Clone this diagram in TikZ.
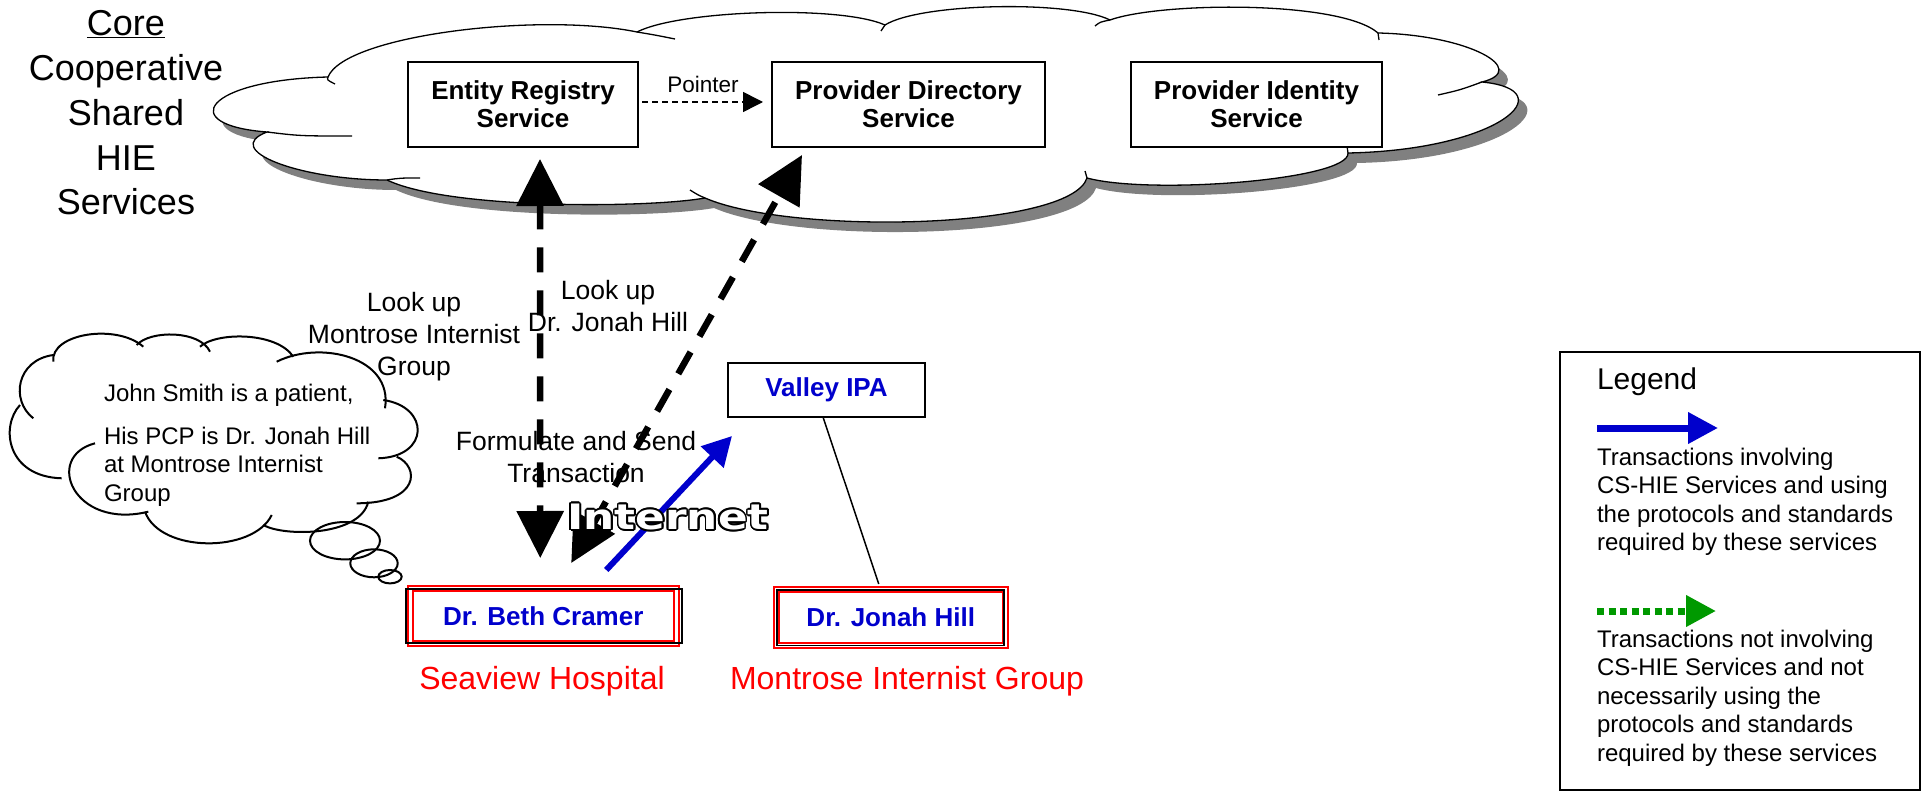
\documentclass[tikz,border=0pt]{standalone}
\usepackage{fontspec}
\setmainfont{Liberation Sans}
\newfontfamily\inetfont{DejaVu Sans}
\usetikzlibrary{arrows.meta,calc}
\definecolor{dblue}{RGB}{0,0,204}
\definecolor{dgreen}{RGB}{0,153,0}
\definecolor{shadowgray}{RGB}{128,128,128}
\tikzset{
  bigcloud/.pic={
    \path[pic actions] (328,77) .. controls (345,35) and (540,12) .. (637,32)
      .. controls (680,10) and (840,5) .. (885,25)
      .. controls (920,3) and (1070,0) .. (1110,20)
      .. controls (1160,2) and (1340,0) .. (1378,33)
      .. controls (1470,35) and (1530,70) .. (1482,82)
      .. controls (1565,90) and (1500,150) .. (1348,153)
      .. controls (1350,180) and (1150,195) .. (1087,178)
      .. controls (1070,230) and (790,235) .. (705,198)
      .. controls (650,208) and (450,210) .. (387,180)
      .. controls (300,180) and (220,150) .. (267,132)
      .. controls (175,125) and (205,80) .. (328,77) -- cycle;
  }
}
\begin{document}
\begin{tikzpicture}[x=1pt,y=-1pt,
  every node/.style={inner sep=0pt, outer sep=0pt},
  svc/.style={draw, line width=1.5pt, fill=white, minimum height=85pt, align=center,
    font=\fontsize{26}{28}\selectfont\bfseries},
  docbox/.style={draw=red, line width=2pt, double=white, double distance=3pt,
    minimum height=55.5pt, text=dblue, font=\fontsize{26}{28}\selectfont\bfseries},
  lbl/.style={align=center, font=\fontsize{26.5}{32}\selectfont},
  orgname/.style={text=red, font=\fontsize{32}{36}\selectfont},
  legtext/.style={anchor=west, align=left, font=\fontsize{24}{28.5}\selectfont},
  bigdash/.style={line width=6.5pt, dash pattern=on 25pt off 18pt},
  cloudline/.style={line width=1.3pt},
  thoughtline/.style={line width=2pt},
  inetstyle/.style={font=\inetfont\fontsize{35}{40}\selectfont\bfseries}
]
\useasboundingbox (0,0) rectangle (1922,794);

% ---------- big cloud ----------
\pic[fill=shadowgray, draw=none] at (9,10) {bigcloud};
\pic[fill=white, draw=black, cloudline] at (0,0) {bigcloud};
\begin{scope}[cloudline]
  \draw (267,132) .. controls (300,136) .. (352,136);
  \draw (387,180) .. controls (400,178) .. (420,178);
  \draw (328,77) .. controls (327,80) .. (335,84);
  \draw (637,32) .. controls (655,35) .. (675,39);
  \draw (885,25) -- (881,31);
  \draw (1110,20) .. controls (1100,22) .. (1095,26);
  \draw (1378,33) -- (1379,40);
  \draw (1482,82) .. controls (1460,90) .. (1438,95);
  \draw (1348,153) -- (1347,146);
  \draw (1087,178) -- (1085,171);
  \draw (705,198) .. controls (698,195) .. (690,190);
\end{scope}

% ---------- title ----------
\node[align=center, font=\fontsize{36}{44.75}\selectfont] (core) at (126,113)
  {\underline{Core}\\Cooperative\\Shared\\HIE\\Services};

% ---------- services ----------
\node[svc, minimum width=230pt] (entity) at (523,104.5) {Entity Registry\\Service};
\node[svc, minimum width=273pt] (directory) at (908.5,104.5) {Provider Directory\\Service};
\node[svc, minimum width=251pt] (identity) at (1256.5,104.5) {Provider Identity\\Service};

\node[font=\fontsize{22.5}{26}\selectfont] (ptr) at (703,84) {Pointer};
\draw[line width=1.5pt, dash pattern=on 6pt off 4pt, -{Triangle[length=20pt,width=20pt]}]
  ($(entity.east)+(4,-2.5)$) -- ($(directory.west)+(-9,-2.5)$);

% ---------- thought cloud ----------
\begin{scope}[thoughtline]
  \draw (33.3,418.3) .. controls (10,400) and (16.7,360) .. (53.3,355);
  \draw (53.3,361.7) .. controls (50,333.3) and (116.7,323.3) .. (143.3,346.7);
  \draw (136.7,345) .. controls (150,330) and (200,330) .. (210,351.7);
  \draw (200,346.7) .. controls (216.7,331.7) and (276.7,331.7) .. (293.3,356.7);
  \draw (276.7,361.7) .. controls (320,340) and (393.3,356.7) .. (385,408.3);
  \draw (383.3,400) .. controls (430,406.7) and (430,456.7) .. (378.3,458.3);
  \draw (396.7,456.7) .. controls (420,466.7) and (420,503.3) .. (356.7,503.3);
  \draw (368.3,501.7) .. controls (360,536.7) and (283.3,536.7) .. (263.3,525);
  \draw (271.7,515) .. controls (253.3,553.3) and (160,553.3) .. (145,511.7);
  \draw (148.3,511.7) .. controls (73.3,530) and (43.3,456.7) .. (95,443.3);
  \draw (61.7,478.3) .. controls (6.7,476.7) and (0,426.7) .. (20,405);
  \draw (345,540.7) ellipse [x radius=35, y radius=18.7];
  \draw (374,563.3) ellipse [x radius=23.7, y radius=14];
  \draw (390,576.7) ellipse [x radius=11.7, y radius=6.7];
\end{scope}
\node[anchor=west, align=left, font=\fontsize{24}{28.5}\selectfont] (thought) at (104,445)
  {John Smith is a patient,\\[14.5pt]His PCP is Dr. Jonah Hill\\at Montrose Internist\\Group};

% ---------- providers ----------
\node[draw, line width=1.5pt, fill=white, minimum width=197pt, minimum height=54pt,
  text=dblue, font=\fontsize{26}{28}\selectfont\bfseries] (valley) at (826.5,390) {Valley IPA};
\node[docbox, minimum width=266.5pt] (beth) at (543.25,615.75) {Dr. Beth Cramer};
\node[docbox, minimum width=228.5pt, minimum height=56pt] (jonah) at (890.75,617.5) {Dr. Jonah Hill};
\draw[line width=1.2pt] ($(beth.north west)+(-4,1)$) rectangle ($(beth.south east)+(5.5,-0.5)$);
\draw[line width=1.2pt] ($(jonah.north west)+(0.5,0.5)$) rectangle ($(jonah.south east)+(-1,0)$);
\draw[line width=1.5pt] ($(valley.south)+(-3.5,0)$) -- ($(jonah.north)+(-12,-5.5)$);

\node[orgname] (seaview) at (542,681) {Seaview Hospital};
\node[orgname] (montrose) at (907,681) {Montrose Internist Group};

% ---------- labels ----------
\node[lbl] (lookmig) at (414,337) {Look up\\Montrose Internist\\Group};
\node[lbl] (lookjh) at (608,306) {Look up\\Dr. Jonah Hill};
\node[lbl] (formulate) at (576,457) {Formulate and Send\\Transaction};

% ---------- transactions ----------
\draw[bigdash, {Triangle[length=47pt,width=46pt]}-{Triangle[length=47pt,width=46pt]}]
  ($(entity.south)+(17,12)$) -- ($(beth.north)+(-3,-30)$);
\draw[bigdash, {Triangle[length=47pt,width=46pt]}-{Triangle[length=47pt,width=46pt]}]
  ($(beth.north)+(28,-25)$) -- ($(directory.south west)+(30,8)$);
\draw[line width=6pt, dblue, -{Triangle[length=29pt,width=30pt]}]
  ($(beth.north)+(63,-18)$) -- ($(valley.south west)+(4,19)$);

% ---------- Internet (outlined) ----------
\foreach \a in {0,20,...,340}
  \node[inetstyle, text=black] (inetc\a) at ($(668,517)+(\a:1.7)$) {\scalebox{1.25}[1]{Internet}};
\node[inetstyle, text=white] (inet) at (668,517) {\scalebox{1.25}[1]{Internet}};

% ---------- legend ----------
\node[draw, line width=1.5pt, minimum width=360pt, minimum height=438pt] (legend) at (1740,571) {};
\node[anchor=west, font=\fontsize{30}{34}\selectfont] (legtitle) at (1597,382) {Legend};
\draw[line width=7pt, dblue, -{Triangle[length=30pt,width=30pt]}]
  ($(legend.north west)+(37,76)$) -- ($(legend.north west)+(158,76)$);
\node[legtext] (leg1) at (1597,502) {Transactions involving\\CS-HIE Services and using\\the protocols and standards\\required by these services};
\draw[line width=7pt, dgreen, dash pattern=on 7pt off 4.5pt, -{Triangle[length=30pt,width=30pt]}]
  ($(legend.north west)+(37,259)$) -- ($(legend.north west)+(156,259)$);
\node[legtext] (leg2) at (1597,698) {Transactions not involving\\CS-HIE Services and not\\necessarily using the\\protocols and standards\\required by these services};
\end{tikzpicture}
\end{document}
